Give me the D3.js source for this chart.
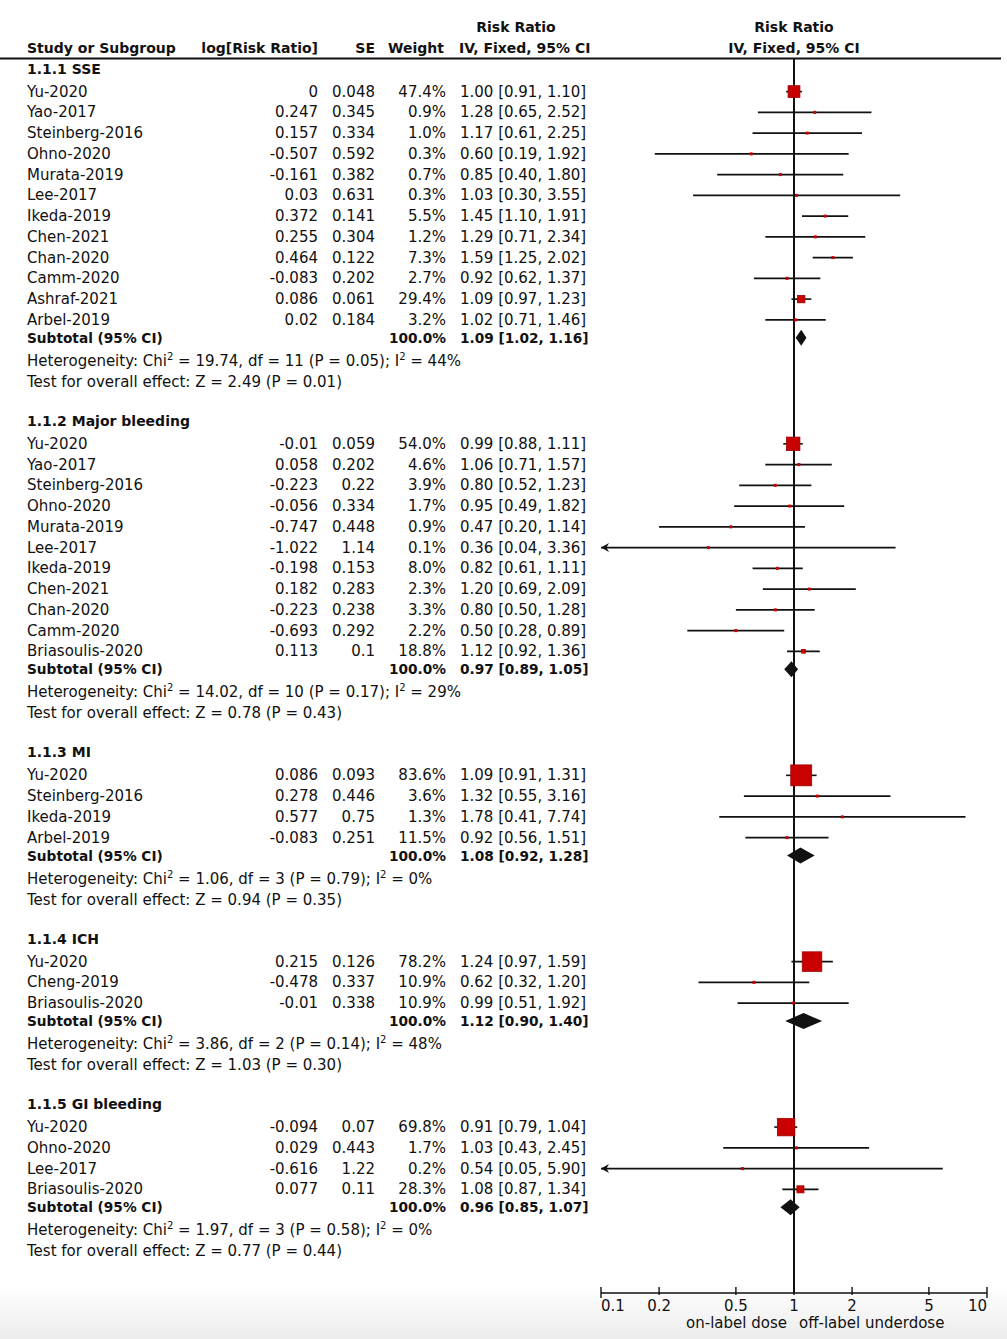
<!DOCTYPE html>
<html>
  <head>
    <meta charset="utf-8" />
    <title>Forest plot - Risk Ratio</title>
    <script src="https://d3js.org/d3.v7.min.js"></script>
    <style>
      body { margin: 0; background: #fff; }
      svg { display: block; font-family: "DejaVu Sans", sans-serif; font-size: 15px; fill: #111; }
      .b { font-weight: bold; font-size: 14px; }
      .sb { font-weight: bold; font-size: 13.7px; }
    </style>
  </head>
  <body>
    <svg width="1007" height="1339"></svg>

    <script>
      // study rows: name, log[RR], SE, weight %, RR, lower, upper
      const groupTitles = ["1.1.1 SSE", "1.1.2 Major bleeding", "1.1.3 MI", "1.1.4 ICH", "1.1.5 GI bleeding"];

      const sseRows = [
        ["Yu-2020", "0", "0.048", 47.4, 1.0, 0.91, 1.1],
        ["Yao-2017", "0.247", "0.345", 0.9, 1.28, 0.65, 2.52],
        ["Steinberg-2016", "0.157", "0.334", 1.0, 1.17, 0.61, 2.25],
        ["Ohno-2020", "-0.507", "0.592", 0.3, 0.6, 0.19, 1.92],
        ["Murata-2019", "-0.161", "0.382", 0.7, 0.85, 0.4, 1.8],
        ["Lee-2017", "0.03", "0.631", 0.3, 1.03, 0.3, 3.55],
        ["Ikeda-2019", "0.372", "0.141", 5.5, 1.45, 1.1, 1.91],
        ["Chen-2021", "0.255", "0.304", 1.2, 1.29, 0.71, 2.34],
        ["Chan-2020", "0.464", "0.122", 7.3, 1.59, 1.25, 2.02],
        ["Camm-2020", "-0.083", "0.202", 2.7, 0.92, 0.62, 1.37],
        ["Ashraf-2021", "0.086", "0.061", 29.4, 1.09, 0.97, 1.23],
        ["Arbel-2019", "0.02", "0.184", 3.2, 1.02, 0.71, 1.46],
      ];
      const bleedingRows = [
        ["Yu-2020", "-0.01", "0.059", 54.0, 0.99, 0.88, 1.11],
        ["Yao-2017", "0.058", "0.202", 4.6, 1.06, 0.71, 1.57],
        ["Steinberg-2016", "-0.223", "0.22", 3.9, 0.8, 0.52, 1.23],
        ["Ohno-2020", "-0.056", "0.334", 1.7, 0.95, 0.49, 1.82],
        ["Murata-2019", "-0.747", "0.448", 0.9, 0.47, 0.2, 1.14],
        ["Lee-2017", "-1.022", "1.14", 0.1, 0.36, 0.04, 3.36],
        ["Ikeda-2019", "-0.198", "0.153", 8.0, 0.82, 0.61, 1.11],
        ["Chen-2021", "0.182", "0.283", 2.3, 1.2, 0.69, 2.09],
        ["Chan-2020", "-0.223", "0.238", 3.3, 0.8, 0.5, 1.28],
        ["Camm-2020", "-0.693", "0.292", 2.2, 0.5, 0.28, 0.89],
        ["Briasoulis-2020", "0.113", "0.1", 18.8, 1.12, 0.92, 1.36],
      ];
      const miRows = [
        ["Yu-2020", "0.086", "0.093", 83.6, 1.09, 0.91, 1.31],
        ["Steinberg-2016", "0.278", "0.446", 3.6, 1.32, 0.55, 3.16],
        ["Ikeda-2019", "0.577", "0.75", 1.3, 1.78, 0.41, 7.74],
        ["Arbel-2019", "-0.083", "0.251", 11.5, 0.92, 0.56, 1.51],
      ];
      const ichRows = [
        ["Yu-2020", "0.215", "0.126", 78.2, 1.24, 0.97, 1.59],
        ["Cheng-2019", "-0.478", "0.337", 10.9, 0.62, 0.32, 1.2],
        ["Briasoulis-2020", "-0.01", "0.338", 10.9, 0.99, 0.51, 1.92],
      ];
      const giRows = [
        ["Yu-2020", "-0.094", "0.07", 69.8, 0.91, 0.79, 1.04],
        ["Ohno-2020", "0.029", "0.443", 1.7, 1.03, 0.43, 2.45],
        ["Lee-2017", "-0.616", "1.22", 0.2, 0.54, 0.05, 5.9],
        ["Briasoulis-2020", "0.077", "0.11", 28.3, 1.08, 0.87, 1.34],
      ];
      const groupRows = [sseRows, bleedingRows, miRows, ichRows, giRows];

      // subtotal: RR, lower, upper
      const subtotals = [
        [1.09, 1.02, 1.16],
        [0.97, 0.89, 1.05],
        [1.08, 0.92, 1.28],
        [1.12, 0.9, 1.4],
        [0.96, 0.85, 1.07],
      ];
      // heterogeneity: Chi2, df, P, I2
      const heterogeneity = [
        ["19.74", "11", "0.05", "44"],
        ["14.02", "10", "0.17", "29"],
        ["1.06", "3", "0.79", "0"],
        ["3.86", "2", "0.14", "48"],
        ["1.97", "3", "0.58", "0"],
      ];
      // overall effect: Z, P
      const overallEffect = [
        ["2.49", "0.01"],
        ["0.78", "0.43"],
        ["0.94", "0.35"],
        ["1.03", "0.30"],
        ["0.77", "0.44"],
      ];

      const axisTicks = [0.1, 0.2, 0.5, 1, 2, 5, 10];
      const favourLabels = ["on-label dose", "off-label underdose"];

      const svg = d3.select("svg");
      const width = +svg.attr("width");
      const height = +svg.attr("height");
      const f2 = d3.format(".2f");
      const f1 = d3.format(".1f");
      const red = "#c80000";

      // soft grey fade at the bottom like the original screenshot
      const grad = svg.append("defs").append("linearGradient")
        .attr("id", "fade").attr("x1", 0).attr("x2", 0).attr("y1", 0).attr("y2", 1);
      grad.append("stop").attr("offset", "0%").attr("stop-color", "#fff");
      grad.append("stop").attr("offset", "100%").attr("stop-color", "#ececec");
      svg.append("rect").attr("x", 0).attr("y", 1285).attr("width", width).attr("height", height - 1285)
        .attr("fill", "url(#fade)");

      const x = d3.scaleLog().domain([0.1, 10]).range([601, 987]);

      // column anchors
      const col = { name: 27, log: 318, se: 375, weight: 446, ci: 460 };

      // header
      const hdr = svg.append("g").attr("class", "b");
      hdr.append("text").attr("x", 516).attr("y", 32).attr("text-anchor", "middle").text("Risk Ratio");
      hdr.append("text").attr("x", x(1)).attr("y", 32).attr("text-anchor", "middle").text("Risk Ratio");
      hdr.append("text").attr("x", col.name).attr("y", 53).text("Study or Subgroup");
      hdr.append("text").attr("x", col.log).attr("y", 53).attr("text-anchor", "end").text("log[Risk Ratio]");
      hdr.append("text").attr("x", col.se).attr("y", 53).attr("text-anchor", "end").text("SE");
      hdr.append("text").attr("x", 444).attr("y", 53).attr("text-anchor", "end").text("Weight");
      hdr.append("text").attr("x", col.ci - 1).attr("y", 53).text("IV, Fixed, 95% CI");
      hdr.append("text").attr("x", x(1)).attr("y", 53).attr("text-anchor", "middle").text("IV, Fixed, 95% CI");

      svg.append("line").attr("x1", 0).attr("x2", 1001).attr("y1", 58.5).attr("y2", 58.5)
        .attr("stroke", "#111").attr("stroke-width", 2);

      // line of no effect
      svg.append("line").attr("x1", x(1)).attr("x2", x(1)).attr("y1", 58).attr("y2", 1293)
        .attr("stroke", "#111").attr("stroke-width", 2);

      // build row positions
      const layout = [];
      let y = 68.6;
      groupTitles.forEach((title, i) => {
        layout.push({ type: "title", y, text: title });
        y += 23;
        groupRows[i].forEach((r, j) => {
          if (j > 0) y += 20.75;
          layout.push({ type: "study", y, row: r });
        });
        y += 18;
        layout.push({ type: "subtotal", y, row: subtotals[i] });
        y += 23;
        layout.push({ type: "het", y, row: heterogeneity[i] });
        y += 21;
        layout.push({ type: "test", y, row: overallEffect[i] });
        y += 39;
      });

      const base = 5; // baseline offset from row centre
      const g = svg.append("g");

      layout.forEach((d) => {
        if (d.type === "title") {
          g.append("text").attr("class", "b").attr("x", col.name).attr("y", d.y + base).text(d.text);
        } else if (d.type === "study") {
          const [name, lg, se, w, rr, lo, hi] = d.row;
          g.append("text").attr("x", col.name).attr("y", d.y + base).text(name);
          g.append("text").attr("x", col.log).attr("y", d.y + base).attr("text-anchor", "end").text(lg);
          g.append("text").attr("x", col.se).attr("y", d.y + base).attr("text-anchor", "end").text(se);
          g.append("text").attr("x", col.weight).attr("y", d.y + base).attr("text-anchor", "end").text(f1(w) + "%");
          g.append("text").attr("x", col.ci).attr("y", d.y + base).text(`${f2(rr)} [${f2(lo)}, ${f2(hi)}]`);

          // CI line, arrow if it runs off the scale
          const x1 = x(Math.max(lo, 0.1));
          const x2 = x(Math.min(hi, 10));
          g.append("line").attr("x1", x1).attr("x2", x2).attr("y1", d.y).attr("y2", d.y)
            .attr("stroke", "#111").attr("stroke-width", 1.6);
          if (lo < 0.1) {
            g.append("path").attr("d", `M${x1},${d.y} l8,-4.5 l-2.5,4.5 l2.5,4.5 z`).attr("fill", "#111");
          }
          const s = Math.max(3, w * 0.25);
          g.append("rect").attr("x", x(rr) - s / 2).attr("y", d.y - s / 2).attr("width", s).attr("height", s)
            .attr("fill", red).attr("stroke", "#a00000").attr("stroke-width", s > 5 ? 0.8 : 0);
        } else if (d.type === "subtotal") {
          const [rr, lo, hi] = d.row;
          g.append("text").attr("class", "sb").attr("x", col.name).attr("y", d.y + base).text("Subtotal (95% CI)");
          g.append("text").attr("class", "sb").attr("x", col.weight).attr("y", d.y + base).attr("text-anchor", "end").text("100.0%");
          g.append("text").attr("class", "sb").attr("x", col.ci).attr("y", d.y + base).text(`${f2(rr)} [${f2(lo)}, ${f2(hi)}]`);
          const h = 8;
          g.append("path")
            .attr("d", `M${x(lo)},${d.y} L${x(rr)},${d.y - h} L${x(hi)},${d.y} L${x(rr)},${d.y + h} Z`)
            .attr("fill", "#111");
        } else if (d.type === "het") {
          const [chi, df, p, i2] = d.row;
          const t = g.append("text").attr("x", col.name).attr("y", d.y + base);
          t.append("tspan").text("Heterogeneity: Chi");
          t.append("tspan").attr("font-size", 10).attr("dy", -6).text("2");
          t.append("tspan").attr("dy", 6).text(` = ${chi}, df = ${df} (P = ${p}); I`);
          t.append("tspan").attr("font-size", 10).attr("dy", -6).text("2");
          t.append("tspan").attr("dy", 6).text(` = ${i2}%`);
        } else {
          const [z, p] = d.row;
          g.append("text").attr("x", col.name).attr("y", d.y + base).text(`Test for overall effect: Z = ${z} (P = ${p})`);
        }
      });

      // bottom axis
      const ax = svg.append("g");
      ax.append("line").attr("x1", x(0.1)).attr("x2", x(10)).attr("y1", 1293).attr("y2", 1293)
        .attr("stroke", "#111").attr("stroke-width", 1.6);
      ax.selectAll(".tk").data(axisTicks).enter().append("line")
        .attr("x1", (d) => x(d)).attr("x2", (d) => x(d))
        .attr("y1", 1287).attr("y2", (d) => (d === 0.1 || d === 10 ? 1298 : 1295))
        .attr("stroke", "#111").attr("stroke-width", 1.4);
      ax.selectAll(".tl").data(axisTicks).enter().append("text")
        .attr("x", (d) => x(d))
        .attr("y", 1311)
        .attr("text-anchor", (d) => (d === 0.1 ? "start" : d === 10 ? "end" : "middle"))
        .text((d) => String(d));
      ax.append("text").attr("x", 787).attr("y", 1328).attr("text-anchor", "end").text(favourLabels[0]);
      ax.append("text").attr("x", 799).attr("y", 1328).text(favourLabels[1]);
    </script>
  </body>
</html>
